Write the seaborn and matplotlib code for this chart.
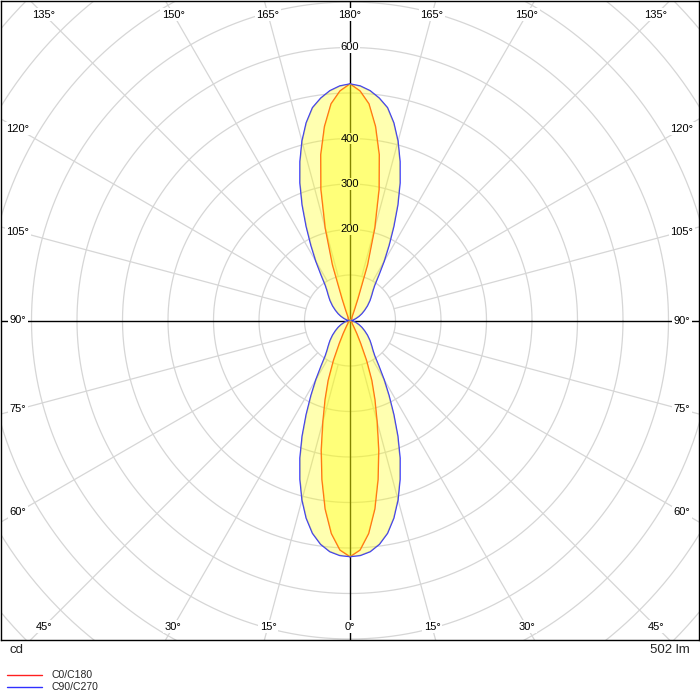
import numpy as np
import pandas as pd
import matplotlib
matplotlib.use("Agg")
import matplotlib.pyplot as plt
from matplotlib.lines import Line2D
import seaborn as sns

# ---------------- data (luminous intensity, cd) ----------------
# vertical angle from nadir (0 = down, 180 = up)
gamma = [0, 2.5, 5, 7.5, 10, 12.5, 15, 17.5, 20, 22.5, 25, 27.5, 30, 32.5, 35, 37.5, 40, 42.5, 45,
         50, 55, 60, 65, 70, 75, 80, 85, 90, 95, 100, 105, 110, 115, 120, 125, 130,
         135, 137.5, 140, 142.5, 145, 147.5, 150, 152.5, 155, 157.5, 160, 162.5, 165, 167.5,
         170, 172.5, 175, 177.5, 180]
c0_c180 = [519, 505, 470, 418, 355, 292, 230, 182, 140, 95, 55, 32, 18, 12, 8, 7, 6, 5.5, 5,
           4, 3, 2, 2, 1, 1, 0, 0, 0, 0, 0, 1, 1, 2, 2, 3, 4,
           5, 5, 6, 6, 7, 7, 8, 11, 15, 25, 50, 128, 210, 295,
           370, 430, 478, 505, 520]
c90_c270 = [519, 517, 510, 496, 475, 445, 408, 366, 322, 275, 228, 186, 150, 118, 95, 83, 75, 68, 62,
            50, 39, 30, 22, 15, 10, 6, 3, 0, 3, 6, 10, 15, 22, 30, 39, 50,
            62, 68, 75, 83, 95, 118, 150, 186, 228, 275, 322, 366, 408, 445,
            475, 493, 507, 516, 520]
series_names = ["C0/C180", "C90/C270"]
series_colors = ["#ff2020", "#3030ff"]
ring_values = list(range(100, 1101, 100))
ring_labels = [200, 300, 400, 600]
angle_steps = list(range(0, 360, 15))
flux_label = "502 lm"
unit_label = "cd"

# ---------------- figure ----------------
sns.set_style("white")
plt.rcParams["font.family"] = ["Liberation Sans", "DejaVu Sans"]

fig = plt.figure(figsize=(7, 7), dpi=100)
ax = fig.add_axes([1 / 700, 60 / 700, 698 / 700, 639 / 700])
scale = 0.455  # px per cd
W = 349 / scale
H = 319.5 / scale
ax.set_xlim(-W, W)
ax.set_ylim(-H, H)
ax.set_xticks([])
ax.set_yticks([])
for s in ax.spines.values():
    s.set_color("black")
    s.set_linewidth(1.0)
    s.set_visible(True)

gridc = "#d6d6d6"
th = np.linspace(0, 2 * np.pi, 721)
for r in ring_values:
    ax.plot(r * np.cos(th), r * np.sin(th), color=gridc, lw=0.9, zorder=1)
for a in angle_steps:
    if a % 90 == 0:
        continue
    rad = np.deg2rad(a)
    ax.plot([100 * np.sin(rad), 1200 * np.sin(rad)],
            [-100 * np.cos(rad), -1200 * np.cos(rad)], color=gridc, lw=0.9, zorder=1)
ax.axhline(0, color="black", lw=1.0, zorder=2)
ax.axvline(0, color="black", lw=1.0, zorder=2)

# angle labels on an inset rectangle
X_in = 332 / scale
Y_in = 306 / scale
bg = dict(facecolor="white", edgecolor="none", pad=1.2)
for a in angle_steps:
    rad = np.deg2rad(a)
    dx, dy = np.sin(rad), -np.cos(rad)
    t = min(X_in / abs(dx) if abs(dx) > 1e-9 else 1e9,
            Y_in / abs(dy) if abs(dy) > 1e-9 else 1e9)
    lab = a if a <= 180 else 360 - a
    ax.text(t * dx, t * dy, f"{lab}°", ha="center", va="center", fontsize=8,
            color="black", bbox=bg, zorder=3)

# cd labels: background under fill, text on top
for v in ring_labels:
    ax.text(0, v, f"{v}", ha="center", va="center", fontsize=8, color="white",
            bbox=dict(facecolor="white", edgecolor="none", pad=0.6), zorder=3)
    ax.text(0, v, f"{v}", ha="center", va="center", fontsize=8, color="black", zorder=10)

# ---------------- curves ----------------
g = np.deg2rad(np.array(gamma, dtype=float))


def polygon(vals):
    v = np.array(vals, dtype=float)
    xr = v * np.sin(g)
    yr = -v * np.cos(g)
    xs = np.concatenate([xr, -xr[::-1]])
    ys = np.concatenate([yr, yr[::-1]])
    return xs, ys


frames = []
for name, vals in zip(series_names, [c0_c180, c90_c270]):
    xs, ys = polygon(vals)
    frames.append(pd.DataFrame({"x": xs, "y": ys, "plane": name}))
df = pd.concat(frames, ignore_index=True)

for name, col in zip(series_names, series_colors):
    d = df[df["plane"] == name]
    sns.lineplot(data=d, x="x", y="y", sort=False, estimator=None, color=col,
                 lw=1.0, ax=ax, legend=False, zorder=4)

for name in series_names[::-1]:
    d = df[df["plane"] == name]
    ax.fill(d["x"], d["y"], color="#ffff00", alpha=0.31, lw=0, zorder=5)

ax.set_xlabel("")
ax.set_ylabel("")
ax.set_xlim(-W, W)
ax.set_ylim(-H, H)

# ---------------- bottom texts & legend ----------------
fig.text(9 / 700, 1 - 650 / 700, unit_label, ha="left", va="center", fontsize=9.5)
fig.text(690 / 700, 1 - 650 / 700, flux_label, ha="right", va="center", fontsize=9.5)
for i, (name, col) in enumerate(zip(series_names, series_colors)):
    yy = 1 - (675 + 12 * i) / 700
    fig.add_artist(Line2D([7 / 700, 42 / 700], [yy, yy], color=col, lw=1.0))
    fig.text(52 / 700, yy, name, ha="left", va="center", fontsize=7.5)

fig.savefig("out.png", dpi=100)
